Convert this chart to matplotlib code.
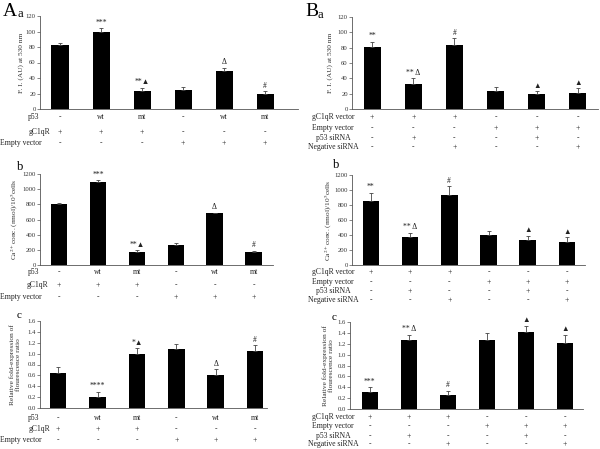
import numpy as np
import matplotlib
matplotlib.use("Agg")
import matplotlib.pyplot as plt
from matplotlib.transforms import blended_transform_factory

plt.rcParams['font.family'] = ['Liberation Serif', 'DejaVu Sans']
plt.rcParams['mathtext.fontset'] = 'stix'

W, H = 600, 449

# ---------- data ----------
a_fi = [82, 99, 23, 25, 49, 19]
a_fi_err = [3, 5, 4, 4, 4, 4]
a_fi_marks = ["", "***", "**\u25b2", "", "\u0394", "#"]

a_ca = [800, 1100, 170, 270, 680, 170]
a_ca_err = [12, 20, 22, 18, 12, 20]
a_ca_marks = ["", "***", "**\u25b2", "", "\u0394", "#"]

a_rel = [0.64, 0.20, 1.00, 1.08, 0.60, 1.04]
a_rel_err = [0.11, 0.10, 0.10, 0.09, 0.11, 0.11]
a_rel_marks = ["", "****", "*\u25b2", "", "\u0394", "#"]

b_fi = [81, 33, 83, 23, 19, 21]
b_fi_err = [7, 7, 9, 6, 4, 6]
b_fi_marks = ["**", "** \u0394", "#", "", "\u25b2", "\u25b2"]

b_ca = [860, 370, 930, 400, 330, 310]
b_ca_err = [100, 60, 120, 50, 60, 60]
b_ca_marks = ["**", "** \u0394", "#", "", "\u25b2", "\u25b2"]

b_rel = [0.32, 1.26, 0.26, 1.27, 1.41, 1.22]
b_rel_err = [0.08, 0.10, 0.07, 0.13, 0.12, 0.14]
b_rel_marks = ["***", "** \u0394", "#", "", "\u25b2", "\u25b2"]

a_rows = ["p53", "gC1qR", "Empty vector"]
a_cells = [["-", "wt", "mt", "-", "wt", "mt"],
           ["+", "+", "+", "-", "-", "-"],
           ["-", "-", "-", "+", "+", "+"]]

b_rows = ["gC1qR vector", "Empty vector", "p53 siRNA", "Negative siRNA"]
b_cells = [["+", "+", "+", "-", "-", "-"],
           ["-", "-", "-", "+", "+", "+"],
           ["-", "+", "-", "-", "+", "-"],
           ["-", "-", "+", "-", "-", "+"]]

fi_label = "F. I. (AU) at 530 nm"
ca_label = "Ca$^{2+}$conc. (nmol)/10$^{5}$cells"
rel_label = "Relative fold-expression of\nflourescence ratio"

fig = plt.figure(figsize=(W / 100, H / 100), dpi=100)
fig.patch.set_facecolor("white")


def fy(px):
    return 1 - px / H


def panel(x0, x1, ytop, ybot, xlim, vals, errs, marks, ymax, step, fmt, ylabel, ylab_x):
    ax = fig.add_axes([x0 / W, fy(ybot), (x1 - x0) / W, (ybot - ytop) / H])
    x = np.arange(len(vals))
    ax.bar(x, vals, width=0.42, color="black", zorder=2)
    ax.errorbar(x, vals, yerr=[np.zeros(len(vals)), errs], fmt="none",
                ecolor="#444444", elinewidth=0.6, capsize=1.5, capthick=0.6, zorder=3)
    for xi, v, e, m in zip(x, vals, errs, marks):
        if m:
            ax.annotate(m, (xi, v + e), xytext=(0, 1.2), textcoords="offset points",
                        ha="center", va="bottom", fontsize=5.5, color="#222222")
    ax.set_xlim(*xlim)
    ax.set_ylim(0, ymax)
    ticks = np.arange(0, ymax + step / 2, step)
    ax.set_yticks(ticks)
    ax.set_yticklabels([fmt.format(t) for t in ticks])
    ax.set_xticks([])
    for s in ("top", "right"):
        ax.spines[s].set_visible(False)
    for s in ("left", "bottom"):
        ax.spines[s].set_linewidth(0.6)
        ax.spines[s].set_color("#555555")
    ax.tick_params(axis="y", labelsize=4.8, length=2, width=0.5, pad=1,
                   colors="#555555", labelcolor="#333333")
    ax.set_facecolor("none")
    fig.text(ylab_x / W, fy((ytop + ybot) / 2), ylabel, rotation=90,
             ha="center", va="center", fontsize=5.3, linespacing=1.1, color="#333333")
    return ax


def rows(ax, names, cells, ys, name_x, name_ha):
    tr = blended_transform_factory(ax.transData, fig.transFigure)
    for name, row, y, nx in zip(names, cells, ys, name_x):
        fig.text(nx / W, fy(y), name, ha=name_ha, va="center", fontsize=5.5, color="#222222")
        for xi, c in enumerate(row):
            ax.text(xi, fy(y), c, transform=tr, ha="center", va="center",
                    fontsize=5.5, color="#222222", clip_on=False)


# ---------- panel A ----------
ax = panel(40, 298, 16, 109, (-0.49, 5.8), a_fi, a_fi_err, a_fi_marks,
           120, 20, "{:.0f}", fi_label, 21)
rows(ax, a_rows, a_cells, [117, 132, 143], [28, 29, 0], "left")

ax = panel(40, 273, 174, 265, (-0.49, 5.5), a_ca, a_ca_err, a_ca_marks,
           1200, 200, "{:.0f}", ca_label, 15)
rows(ax, a_rows, a_cells, [272, 285, 297], [28, 27, 0], "left")

ax = panel(40, 267, 321, 408, (-0.46, 5.3), a_rel, a_rel_err, a_rel_marks,
           1.6, 0.2, "{:.1f}", rel_label, 15)
rows(ax, a_rows, a_cells, [418, 429, 440], [28, 29, 0], "left")

# ---------- panel B ----------
ax = panel(352, 598, 17, 109, (-0.49, 5.49), b_fi, b_fi_err, b_fi_marks,
           120, 20, "{:.0f}", fi_label, 330)
rows(ax, b_rows, b_cells, [117, 128, 138, 147], [333] * 4, "center")

ax = panel(352, 585, 175, 265, (-0.48, 5.46), b_ca, b_ca_err, b_ca_marks,
           1200, 200, "{:.0f}", ca_label, 329)
rows(ax, b_rows, b_cells, [272, 282, 291, 300], [333] * 4, "center")

ax = panel(350, 583, 322, 409, (-0.51, 5.46), b_rel, b_rel_err, b_rel_marks,
           1.6, 0.2, "{:.1f}", rel_label, 328)
rows(ax, b_rows, b_cells, [417, 426, 436, 444], [333] * 4, "center")

# ---------- panel letters ----------
fig.text(3 / W, fy(11), "A", fontsize=14, ha="left", va="center")
fig.text(18 / W, fy(14), "a", fontsize=9, ha="left", va="center")
fig.text(305 / W, fy(11), "B", fontsize=14, ha="left", va="center")
fig.text(318 / W, fy(15), "a", fontsize=9, ha="left", va="center")
fig.text(17 / W, fy(167), "b", fontsize=9, ha="left", va="center")
fig.text(333 / W, fy(165), "b", fontsize=9, ha="left", va="center")
fig.text(17 / W, fy(315), "c", fontsize=8, ha="left", va="center")
fig.text(332 / W, fy(318), "c", fontsize=8, ha="left", va="center")

fig.savefig("out.png", dpi=100, facecolor="white")
